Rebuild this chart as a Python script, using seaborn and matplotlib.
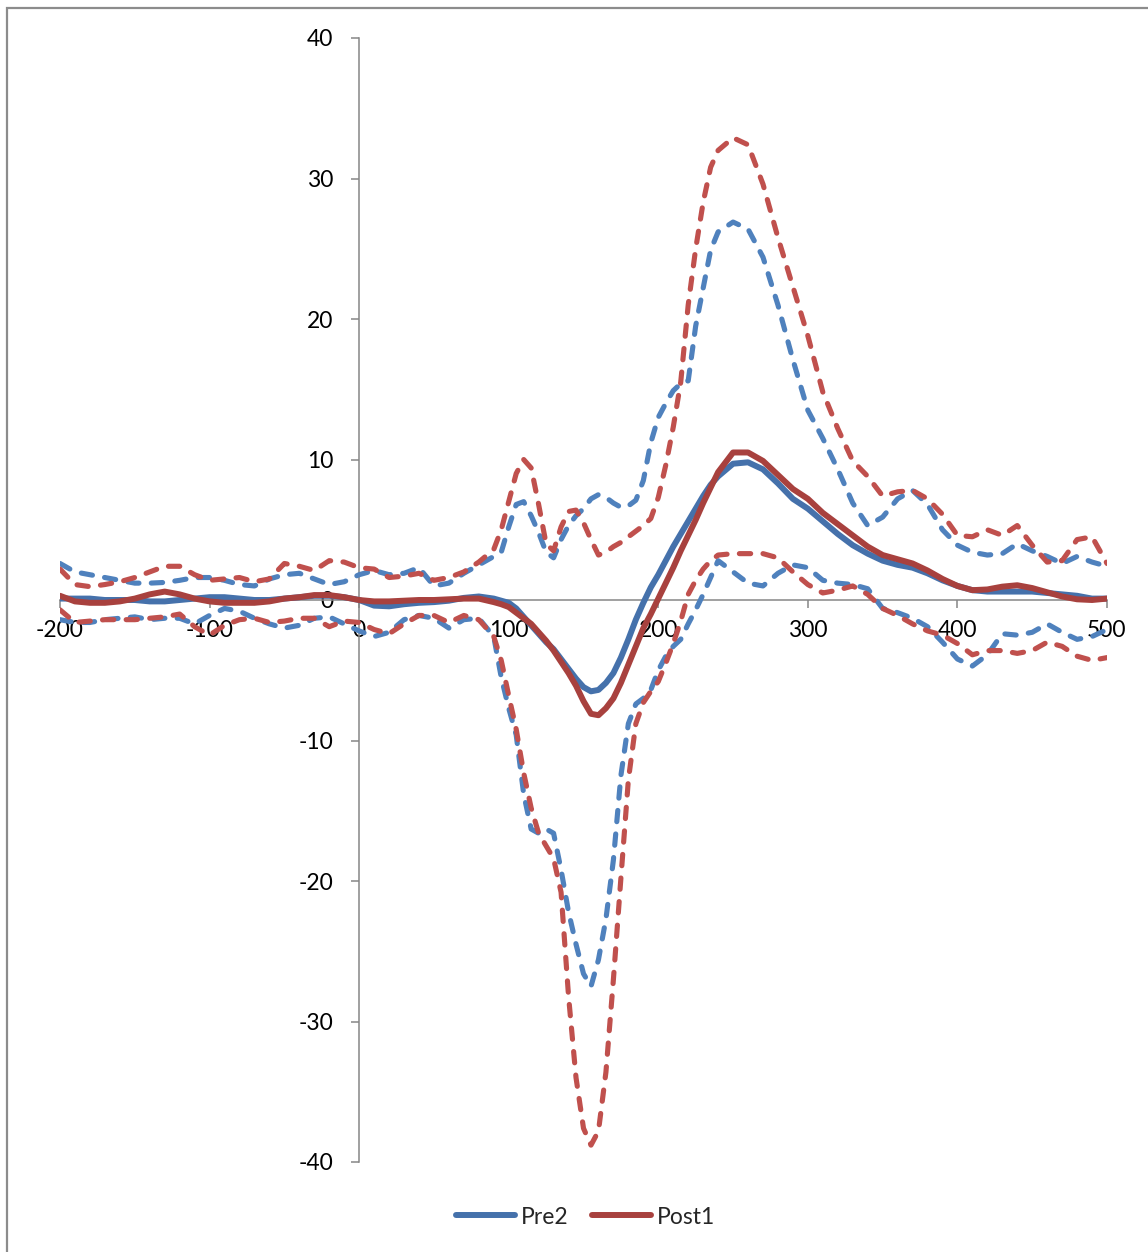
import matplotlib
matplotlib.use("Agg")
import matplotlib.pyplot as plt
import seaborn as sns
import pandas as pd
from matplotlib.patches import Rectangle

# ---- data ----
time_ms = [-200, -190, -180, -170, -160, -150, -140, -130, -120, -110, -100, -90, -80, -70, -60,
           -50, -40, -30, -20, -10, 0, 10, 20, 30, 40, 50, 60, 70, 80, 90,
           95, 100, 105, 110, 115, 120, 125, 130, 135, 140, 145, 150, 155, 160, 165, 170, 175,
           180, 185, 190, 195, 200, 205, 210, 215, 220, 225, 230, 235,
           240, 250, 260, 270, 280, 290, 300, 310, 320, 330, 340, 350, 360, 370, 380, 390, 400,
           410, 420, 430, 440, 450, 460, 470, 480, 490, 500]

pre2 = [0.1, 0.1, 0.1, 0.0, 0.0, 0.0, -0.1, -0.1, 0.0, 0.1, 0.2, 0.2, 0.1, 0.0, 0.0,
        0.1, 0.2, 0.3, 0.3, 0.2, 0.0, -0.4, -0.45, -0.3, -0.2, -0.15, -0.05, 0.15, 0.25, 0.1,
        -0.05, -0.2, -0.6, -1.2, -1.8, -2.4, -3.0, -3.5, -4.2, -4.9, -5.6, -6.2, -6.5, -6.4, -5.9, -5.2, -4.1,
        -2.8, -1.4, -0.2, 0.9, 1.8, 2.8, 3.8, 4.7, 5.6, 6.5, 7.4, 8.2,
        8.8, 9.7, 9.8, 9.3, 8.3, 7.2, 6.5, 5.6, 4.7, 3.9, 3.3, 2.8, 2.5, 2.3, 1.9, 1.4, 1.0,
        0.7, 0.6, 0.6, 0.6, 0.6, 0.5, 0.4, 0.3, 0.1, 0.1]

post1 = [0.3, -0.1, -0.2, -0.2, -0.1, 0.1, 0.4, 0.6, 0.4, 0.1, -0.1, -0.2, -0.2, -0.2, -0.1,
         0.1, 0.2, 0.35, 0.35, 0.2, 0.0, -0.1, -0.1, -0.05, 0.0, 0.0, 0.05, 0.1, 0.1, -0.15,
         -0.3, -0.5, -0.9, -1.3, -1.7, -2.3, -2.9, -3.6, -4.4, -5.2, -6.1, -7.2, -8.1, -8.2, -7.7, -7.0, -5.9,
         -4.6, -3.3, -2.0, -1.0, 0.1, 1.2, 2.3, 3.5, 4.6, 5.7, 6.9, 8.0,
         9.1, 10.5, 10.5, 9.9, 8.9, 7.9, 7.2, 6.2, 5.4, 4.6, 3.8, 3.2, 2.9, 2.6, 2.1, 1.5, 1.0,
         0.7, 0.75, 0.95, 1.05, 0.85, 0.55, 0.25, 0.05, 0.0, 0.1]

pre2_upper = [2.6, 2.0, 1.8, 1.6, 1.4, 1.2, 1.2, 1.25, 1.4, 1.6, 1.6, 1.4, 1.1, 1.0, 1.5,
              1.8, 1.9, 1.5, 1.1, 1.3, 1.8, 2.1, 1.8, 1.9, 2.3, 1.0, 1.2, 1.9, 2.5, 3.1,
              3.4, 5.2, 6.8, 7.0, 6.0, 4.8, 3.4, 3.0, 4.3, 5.3, 6.0, 6.5, 7.2, 7.5, 7.3, 6.9, 6.6,
              6.7, 7.1, 8.5, 11.2, 13.0, 14.0, 14.9, 15.4, 15.6, 19.5, 22.2, 24.9,
              26.2, 26.9, 26.4, 24.4, 21.0, 17.1, 13.5, 11.5, 9.3, 6.9, 5.3, 5.9, 7.2, 7.8, 6.8, 5.0, 3.9,
              3.4, 3.2, 3.3, 4.0, 3.5, 3.1, 2.6, 3.1, 2.7, 2.4]

post1_upper = [2.2, 1.1, 0.95, 1.1, 1.3, 1.6, 2.0, 2.4, 2.4, 1.8, 1.4, 1.5, 1.6, 1.3, 1.5,
               2.6, 2.4, 2.1, 2.8, 2.7, 2.3, 2.2, 1.6, 1.7, 1.9, 1.4, 1.6, 2.0, 2.7, 3.6,
               5.0, 7.0, 9.0, 10.0, 9.4, 6.8, 4.0, 3.5, 5.2, 6.3, 6.4, 5.5, 4.3, 3.2, 3.4, 3.8, 4.1,
               4.5, 4.9, 5.3, 5.8, 7.3, 9.6, 12.3, 15.5, 21.0, 25.0, 28.3, 30.8,
               32.0, 32.9, 32.4, 29.6, 25.8, 22.3, 18.8, 14.8, 12.2, 9.9, 8.8, 7.4, 7.7, 7.8, 7.2, 6.1, 4.6,
               4.5, 5.0, 4.6, 5.3, 3.9, 2.7, 2.8, 4.3, 4.5, 2.6]

pre2_lower = [-1.4, -1.6, -1.6, -1.4, -1.3, -1.2, -1.4, -1.3, -1.3, -1.7, -1.1, -0.6, -0.8, -1.3, -1.7,
              -2.0, -1.8, -1.3, -1.2, -1.7, -2.2, -2.6, -2.3, -1.4, -1.1, -1.3, -2.0, -1.4, -1.3, -2.6,
              -5.5, -7.7, -9.6, -13.8, -16.3, -16.6, -16.3, -16.6, -19.2, -22.2, -24.5, -26.6, -27.5, -25.6, -22.7, -18.5, -12.5,
              -8.8, -7.4, -7.0, -6.4, -5.0, -4.0, -3.3, -2.8, -1.7, -0.7, 0.4, 1.6,
              2.8, 2.0, 1.2, 1.0, 1.9, 2.5, 2.3, 1.4, 1.2, 1.1, 0.8, -0.6, -0.9, -1.3, -1.9, -3.0, -4.2,
              -4.7, -3.9, -2.4, -2.5, -2.3, -1.7, -2.3, -2.8, -2.6, -2.1]

post1_lower = [-0.7, -1.6, -1.5, -1.4, -1.4, -1.4, -1.3, -1.2, -1.0, -1.9, -2.5, -1.8, -1.4, -1.3, -1.6,
               -1.5, -1.3, -1.3, -1.9, -1.5, -1.6, -2.1, -2.4, -1.7, -1.1, -1.1, -1.6, -1.1, -1.4, -2.6,
               -4.3, -6.8, -9.2, -12.3, -14.8, -16.6, -17.5, -18.4, -20.8, -28.2, -34.0, -37.6, -38.8, -37.8, -33.6, -27.0, -19.8,
               -12.8, -8.8, -7.3, -6.5, -5.8, -4.5, -3.1, -1.5, 0.4, 1.4, 2.2, 2.8,
               3.2, 3.3, 3.3, 3.3, 3.0, 2.0, 1.1, 0.5, 0.7, 1.0, 0.4, -0.6, -1.1, -1.7, -2.2, -2.5, -3.1,
               -3.9, -3.6, -3.6, -3.8, -3.6, -3.0, -3.3, -4.0, -4.3, -4.1]

x_ticks = [-200, -100, 0, 100, 200, 300, 400, 500]
y_ticks = [-40, -30, -20, -10, 0, 10, 20, 30, 40]

# ---- style ----
sns.set_theme(style="white")
plt.rcParams["font.family"] = ["Lato", "DejaVu Sans"]

BLUE_SOLID = "#4571AB"
BLUE_DASH = "#4F81BD"
RED_SOLID = "#A8413E"
RED_DASH = "#C0504D"
AXIS_GREY = "#868686"
FS = 16.5
LW_DASH = 3.7
LW_SOLID = 4.3

fig = plt.figure(figsize=(11.48, 12.52), dpi=100)
ax = fig.add_axes([60 / 1148, 1 - 1162 / 1252, (1107 - 60) / 1148, (1162 - 38) / 1252])

df = pd.DataFrame({"t": time_ms, "pre2": pre2, "post1": post1,
                   "pre2_upper": pre2_upper, "pre2_lower": pre2_lower,
                   "post1_upper": post1_upper, "post1_lower": post1_lower})

dashed_series = [("pre2_upper", BLUE_DASH), ("pre2_lower", BLUE_DASH),
                 ("post1_upper", RED_DASH), ("post1_lower", RED_DASH)]
for col, color in dashed_series:
    sns.lineplot(data=df, x="t", y=col, ax=ax, color=color,
                 label="_nolegend_", estimator=None, sort=False)
    ln = ax.lines[-1]
    ln.set_linewidth(LW_DASH)
    ln.set_dashes((2.2, 2.4))
    ln.set_dash_capstyle("round")
    ln.set_dash_joinstyle("round")

for col, color, lab in [("pre2", BLUE_SOLID, "Pre2"), ("post1", RED_SOLID, "Post1")]:
    sns.lineplot(data=df, x="t", y=col, ax=ax, color=color,
                 label=lab, estimator=None, sort=False)
    ln = ax.lines[-1]
    ln.set_linewidth(LW_SOLID)
    ln.set_solid_capstyle("round")
    ln.set_solid_joinstyle("round")

ax.set_xlim(-200, 500)
ax.set_ylim(-40, 40)
ax.set_xticks(x_ticks)
ax.set_yticks(y_ticks)
ax.set_xticklabels([str(v) for v in x_ticks])
ax.set_yticklabels([str(v) for v in y_ticks])
ax.set_xlabel("")
ax.set_ylabel("")

for side in ["top", "right"]:
    ax.spines[side].set_visible(False)
ax.spines["left"].set_position(("data", 0))
ax.spines["bottom"].set_position(("data", 0))
for side in ["left", "bottom"]:
    ax.spines[side].set_color(AXIS_GREY)
    ax.spines[side].set_linewidth(1.1)
    ax.spines[side].set_zorder(0.6)

ax.tick_params(axis="y", direction="out", length=5.5, width=1.1, color=AXIS_GREY,
               labelsize=FS, labelcolor="black", pad=13, left=True)
ax.tick_params(axis="x", direction="out", length=5.5, width=1.1, color=AXIS_GREY,
               labelsize=FS, labelcolor="black", pad=9, bottom=True)
ax.set_axisbelow(True)
ax.grid(False)
ax.patch.set_alpha(0)

if ax.get_legend() is not None:
    ax.get_legend().remove()
handles = [ax.lines[-2], ax.lines[-1]]
labels = ["Pre2", "Post1"]
fig.legend(handles, labels, loc="center", bbox_to_anchor=(0.51, 1 - 1217 / 1252),
           ncol=2, frameon=False, fontsize=FS, handlelength=2.6, handletextpad=0.25,
           columnspacing=1.0)

# outer chart-area border (grey frame, continues past right/bottom edges)
fig.patches.append(Rectangle((6.5 / 1148, -0.05), 1.2, 1 - 7.5 / 1252 + 0.05,
                             transform=fig.transFigure, fill=False,
                             edgecolor="#8C8C8C", linewidth=1.6, zorder=0))

fig.savefig("out.png", dpi=100)
